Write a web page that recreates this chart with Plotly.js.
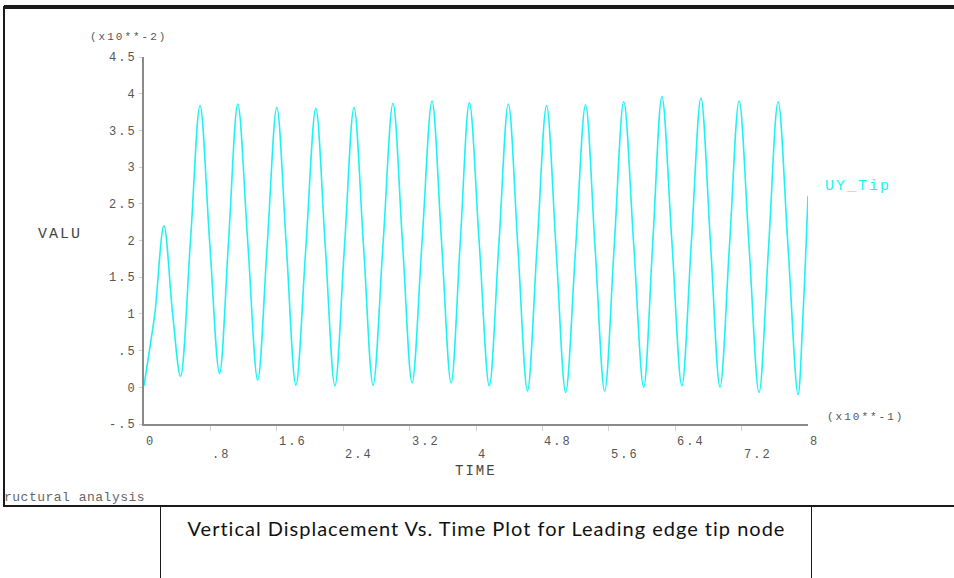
<!DOCTYPE html>
<html>
<head>
<meta charset="utf-8">
<script src="https://cdn.plot.ly/plotly-3.0.1.min.js"></script>
<style>
  html, body { margin: 0; padding: 0; background: #fff; }
  #page { position: relative; width: 954px; height: 578px; overflow: hidden; background: #fff; }
  #chart { position: absolute; left: 0; top: 0; width: 954px; height: 578px; }
  .ln { position: absolute; background: #1a1a1a; }
  .ytick text, text.annotation-text { letter-spacing: 2px; }
  #struct { position: absolute; left: 4px; top: 490px; font-family: "Liberation Mono", monospace; font-size: 13px; color: #666; white-space: nowrap; letter-spacing: 0.5px; }
  #caption { position: absolute; left: 161px; width: 651px; top: 516px; text-align: center; font-family: "Lato", sans-serif; font-size: 20px; letter-spacing: 1px; color: #111; white-space: nowrap; }
</style>
</head>
<body>
<div id="page">
  <div class="ln" style="left:4px; top:5px; width:950px; height:4px;"></div>
  <div class="ln" style="left:3px; top:6px; width:2px; height:501px;"></div>
  <div class="ln" style="left:3px; top:505px; width:951px; height:2px;"></div>
  <div class="ln" style="left:160px; top:506px; width:1px; height:72px;"></div>
  <div class="ln" style="left:811px; top:506px; width:1px; height:72px;"></div>
  <div id="struct">ructural analysis</div>
  <div id="caption">Vertical Displacement Vs. Time Plot for Leading edge tip node</div>
  <div id="chart"></div>
</div>
<script>
// TIME (x10**-1)
const timeVals = [0, 0.065, 0.13, 0.24, 0.345, 0.44, 0.56, 0.675, 0.79, 0.91, 1.02, 1.13, 1.25, 1.37, 1.485, 1.60, 1.715, 1.83, 1.95, 2.07, 2.185, 2.30, 2.415, 2.53, 2.645, 2.76, 2.88, 3.00, 3.115, 3.23, 3.35, 3.47, 3.585, 3.70, 3.81, 3.92, 4.04, 4.16, 4.275, 4.39, 4.505, 4.62, 4.735, 4.85, 4.965, 5.08, 5.20, 5.32, 5.435, 5.55, 5.665, 5.78, 5.90, 6.02, 6.13, 6.24, 6.36, 6.48, 6.595, 6.71, 6.825, 6.94, 7.055, 7.17, 7.29, 7.41, 7.525, 7.64, 7.76, 7.88, 7.94, 8.0];
// UY_Tip (x10**-2)
const uyTip = [0.02, 0.5, 1.0, 2.2, 1.0, 0.15, 2.0, 3.84, 2.0, 0.19, 2.02, 3.86, 1.98, 0.10, 1.95, 3.81, 1.92, 0.03, 1.9, 3.80, 1.9, 0.02, 1.91, 3.81, 1.92, 0.03, 1.95, 3.87, 1.96, 0.06, 1.98, 3.90, 1.98, 0.06, 1.97, 3.88, 1.95, 0.02, 1.94, 3.86, 1.9, -0.05, 1.9, 3.84, 1.88, -0.07, 1.89, 3.85, 1.9, -0.05, 1.92, 3.89, 1.95, 0.0, 1.98, 3.96, 1.99, 0.02, 1.98, 3.94, 1.97, 0.0, 1.95, 3.90, 1.92, -0.07, 1.91, 3.89, 1.9, -0.10, 1.0, 2.61];

const xTickVals = [0, 0.8, 1.6, 2.4, 3.2, 4, 4.8, 5.6, 6.4, 7.2, 8];
const xTickText = ['0', '.8', '1.6', '2.4', '3.2', '4', '4.8', '5.6', '6.4', '7.2', '8'];
const yTickVals = [-0.5, 0, 0.5, 1, 1.5, 2, 2.5, 3, 3.5, 4, 4.5];
const yTickText = ['-.5', '0', '.5', '1', '1.5', '2', '2.5', '3', '3.5', '4', '4.5'];

const seriesName = 'UY_Tip';
const xTitle = 'TIME';
const yTitle = 'VALU';
const xScale = '(x10**-1)';
const yScale = '(x10**-2)';

const mono = 'Liberation Mono, DejaVu Sans Mono, monospace';
const tickFont = { family: mono, size: 12, color: '#555' };
const cyan = '#1ef2f2';

const annotations = [];
xTickVals.forEach((v, i) => {
  annotations.push({
    x: v, xref: 'x', y: 0, yref: 'paper',
    xanchor: 'left', yanchor: 'middle',
    yshift: (i % 2 === 0) ? -18 : -31,
    text: xTickText[i], showarrow: false, font: tickFont
  });
});
annotations.push({ x: -0.0843, xref: 'paper', y: 1.0545, yref: 'paper', xanchor: 'left', yanchor: 'middle', text: yScale, showarrow: false, font: { family: mono, size: 11, color: '#555' } });
annotations.push({ x: 1.0256, xref: 'paper', y: 0.019, yref: 'paper', xanchor: 'left', yanchor: 'middle', text: xScale, showarrow: false, font: { family: mono, size: 11, color: '#555' } });
annotations.push({ x: -0.1265, xref: 'paper', y: 0.5177, yref: 'paper', xanchor: 'center', yanchor: 'middle', text: yTitle, showarrow: false, font: { family: mono, size: 15, color: '#444' } });
annotations.push({ x: 0.5, xref: 'paper', y: -0.128, yref: 'paper', xanchor: 'center', yanchor: 'middle', text: xTitle, showarrow: false, font: { family: mono, size: 14, color: '#444' } });
annotations.push({ x: 1.0226, xref: 'paper', y: 0.6458, yref: 'paper', xanchor: 'left', yanchor: 'middle', text: seriesName, showarrow: false, font: { family: mono, size: 15, color: cyan } });

const trace = {
  x: timeVals, y: uyTip, type: 'scatter', mode: 'lines', name: seriesName,
  line: { color: cyan, width: 1.6, shape: 'spline', smoothing: 1 },
  hoverinfo: 'skip'
};

const layout = {
  width: 954, height: 578,
  margin: { l: 144, r: 146, t: 57, b: 154, pad: 0 },
  paper_bgcolor: 'rgba(0,0,0,0)', plot_bgcolor: 'rgba(0,0,0,0)',
  showlegend: false,
  xaxis: {
    range: [0, 8], showline: true, linecolor: '#8a8a8a', linewidth: 2,
    ticks: 'outside', tickvals: xTickVals.slice(1, -1), ticklen: 5, tickcolor: '#d0d0d0', tickwidth: 1,
    showticklabels: false, showgrid: false, zeroline: false, fixedrange: true
  },
  yaxis: {
    range: [-0.5, 4.5], showline: true, linecolor: '#8a8a8a', linewidth: 2,
    ticks: 'outside', tickvals: yTickVals, ticktext: yTickText, ticklen: 3, tickcolor: '#cfcfcf',
    tickfont: tickFont, showgrid: false, zeroline: false, fixedrange: true
  },
  annotations: annotations
};

Plotly.newPlot('chart', [trace], layout, { staticPlot: true, displayModeBar: false });
</script>
</body>
</html>
